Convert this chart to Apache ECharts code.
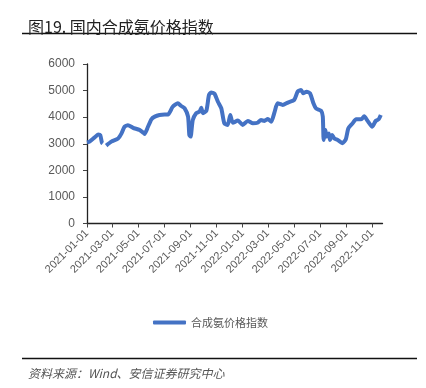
<!DOCTYPE html>
<html>
<head>
<meta charset="utf-8">
<script src="https://cdn.jsdelivr.net/npm/echarts@6/dist/echarts.min.js"></script>
<style>
html,body{margin:0;padding:0;background:#fff;}
#c{width:426px;height:388px;}
</style>
</head>
<body>
<div id="c"></div>
<script>
// ---- data ----
var startDate = '2021-01-01';
var endDate = '2022-11-25';
var tickLabels = ['2021-01-01','2021-03-01','2021-05-01','2021-07-01','2021-09-01','2021-11-01',
                  '2022-01-01','2022-03-01','2022-05-01','2022-07-01','2022-09-01','2022-11-01'];
var yTicks = [0, 1000, 2000, 3000, 4000, 5000, 6000];
var seriesName = '合成氨价格指数';
var pointDates = [
 '2021-01-01','2021-01-07','2021-01-19','2021-01-27','2021-02-01','2021-02-05','2021-02-07','2021-02-11',
 '2021-02-15','2021-02-27','2021-03-15','2021-03-23','2021-03-30','2021-04-07','2021-04-19','2021-05-04',
 '2021-05-12','2021-05-16','2021-05-24','2021-06-01','2021-06-09','2021-06-20','2021-07-02','2021-07-10',
 '2021-07-21','2021-08-02','2021-08-10','2021-08-18','2021-08-26','2021-08-29','2021-09-01','2021-09-06',
 '2021-09-14','2021-09-22','2021-09-26','2021-09-30','2021-10-08','2021-10-14','2021-10-19','2021-10-27',
 '2021-11-04','2021-11-12','2021-11-19','2021-11-27','2021-12-03','2021-12-09','2021-12-21','2022-01-01',
 '2022-01-13','2022-01-25','2022-02-05','2022-02-13','2022-02-21','2022-03-01','2022-03-09','2022-03-17',
 '2022-03-24','2022-04-05','2022-04-17','2022-05-02','2022-05-10','2022-05-18','2022-05-23','2022-05-31',
 '2022-06-08','2022-06-16','2022-06-22','2022-07-04','2022-07-08','2022-07-10','2022-07-14','2022-07-17',
 '2022-07-22','2022-07-25','2022-07-30','2022-08-04','2022-08-12','2022-08-23','2022-08-31','2022-09-06',
 '2022-09-16','2022-09-24','2022-10-06','2022-10-13','2022-10-21','2022-11-01','2022-11-09','2022-11-16',
 '2022-11-21'
];
var pointValues = [
 3050,3080,3240,3350,3330,3040,3010,null,
 2930,3080,3200,3390,3640,3700,3600,3520,
 3430,3370,3640,3920,4020,4080,4100,4100,
 4390,4520,4420,4330,4020,3330,3270,3890,
 4150,4210,4350,4150,4250,4830,4930,4880,
 4580,4330,3770,3710,4080,3790,3870,3710,
 3860,3770,3790,3890,3860,3930,3830,4200,
 4520,4460,4550,4650,4960,5020,4900,4960,
 4900,4520,4330,4240,4020,3140,3520,3270,
 3390,3140,3330,3200,3140,3020,3170,3580,
 3770,3920,3920,4030,3860,3640,3860,3920,
 4080
];

// ---- build axis categories (every day between start and end) ----
function fmt(d){
  var m = d.getUTCMonth()+1, day = d.getUTCDate();
  return d.getUTCFullYear() + '-' + (m<10?'0':'') + m + '-' + (day<10?'0':'') + day;
}
var categories = [];
(function(){
  var d = new Date(startDate + 'T00:00:00Z'), e = new Date(endDate + 'T00:00:00Z');
  while (d <= e) { categories.push(fmt(d)); d = new Date(d.getTime() + 86400000); }
})();
var seriesData = pointDates.map(function(dt, i){ return [dt, pointValues[i]]; });
function isTick(idx, val){ return tickLabels.indexOf(val) >= 0; }

var chart = echarts.init(document.getElementById('c'), null, {renderer:'canvas'});
var gray = '#595959';
chart.setOption({
  animation: false,
  backgroundColor: '#fff',
  title: [{
    text: '图19. 国内合成氨价格指数',
    left: 23, top: 14,
    textStyle: {fontFamily: '"Noto Sans CJK SC"', fontSize: 16, fontWeight: 'normal', color: '#222'}
  },{
    text: '资料来源：Wind、安信证券研究中心',
    left: 23, top: 362,
    textStyle: {fontFamily: '"Noto Sans CJK SC"', fontSize: 12, fontWeight: 'normal', fontStyle: 'italic', color: '#555'}
  }],
  graphic: [
    {type:'line', shape:{x1:22,y1:33.5,x2:417,y2:33.5}, style:{stroke:'#111', lineWidth:1.5}},
    {type:'line', shape:{x1:22,y1:358.5,x2:417,y2:358.5}, style:{stroke:'#111', lineWidth:1.5}}
  ],
  legend: {
    data: [seriesName],
    left: 148, top: 312,
    itemWidth: 33, itemHeight: 4, itemGap: 4,
    icon: 'roundRect',
    textStyle: {fontFamily: '"Noto Sans CJK SC"', fontSize: 11, color: gray}
  },
  grid: {left: 87, right: 43.5, top: 64, bottom: 164.5, containLabel: false},
  xAxis: {
    type: 'category',
    data: categories,
    boundaryGap: false,
    axisLine: {lineStyle: {color: '#222', width: 1.3}},
    axisTick: {show: true, interval: isTick, length: 4, lineStyle: {color: '#444'}},
    axisLabel: {interval: isTick, rotate: 45, margin: 8, fontSize: 11, color: gray, fontFamily: 'Liberation Sans, Arial'},
    splitLine: {show: false}
  },
  yAxis: {
    type: 'value',
    min: yTicks[0], max: yTicks[yTicks.length-1], interval: 1000,
    axisLine: {show: true, lineStyle: {color: '#222', width: 1.3}},
    axisTick: {show: true, length: 4, lineStyle: {color: '#444'}},
    axisLabel: {margin: 12, fontSize: 12, color: gray, fontFamily: 'Liberation Sans, Arial',
                formatter: function(v){ return String(v); }},
    splitLine: {show: false}
  },
  series: [{
    name: seriesName,
    type: 'line',
    data: seriesData,
    showSymbol: false,
    smooth: 0.2,
    connectNulls: false,
    lineStyle: {color: '#4472C4', width: 4},
    itemStyle: {color: '#4472C4'}
  }]
});
</script>
</body>
</html>
